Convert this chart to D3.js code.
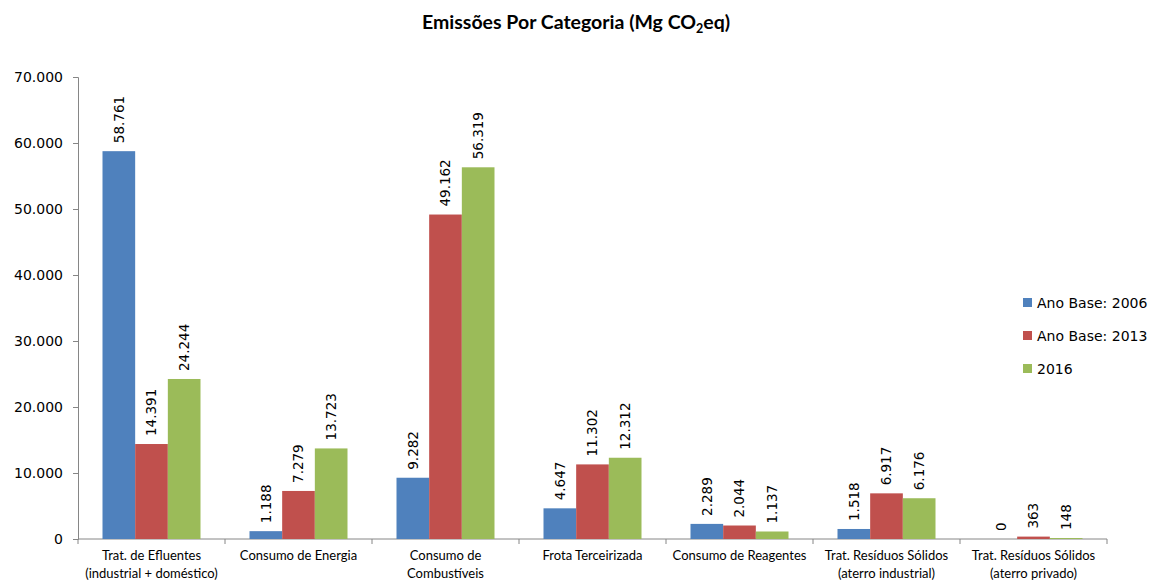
<!DOCTYPE html>
<html>
<head>
<meta charset="utf-8">
<script src="https://cdn.jsdelivr.net/npm/d3@7"></script>
<style>
  html, body { margin: 0; padding: 0; background: #fff; }
  svg { display: block; }
</style>
</head>
<body>
<svg id="chart" width="1151" height="581"></svg>
<script>
// Emission categories (two-line labels where the axis wraps them)
const categories = [
  ["Trat. de Efluentes", "(industrial + doméstico)"],
  ["Consumo de Energia"],
  ["Consumo de", "Combustíveis"],
  ["Frota Terceirizada"],
  ["Consumo de Reagentes"],
  ["Trat. Resíduos Sólidos", "(aterro industrial)"],
  ["Trat. Resíduos Sólidos", "(aterro privado)"]
];
const seriesNames = ["Ano Base: 2006", "Ano Base: 2013", "2016"];
const values2006 = [58761, 1188, 9282, 4647, 2289, 1518, 0];
const values2013 = [14391, 7279, 49162, 11302, 2044, 6917, 363];
const values2016 = [24244, 13723, 56319, 12312, 1137, 6176, 148];
const yTicks = [0, 10000, 20000, 30000, 40000, 50000, 60000, 70000];
const colors = ["#4F81BD", "#C0504D", "#9BBB59"];

const seriesValues = [values2006, values2013, values2016];

const svg = d3.select("#chart");
const plotLeft = 78, plotTop = 77, plotRight = 1107, plotBottom = 539;

const locale = d3.formatLocale({ decimal: ",", thousands: ".", grouping: [3], currency: ["", ""] });
const fmt = locale.format(",d");

const x0 = d3.scaleBand()
  .domain(d3.range(categories.length))
  .range([plotLeft, plotRight])
  .padding(0);

// Gap width of 150%: bars take 3 of 4.5 units within each category
const bandW = x0.bandwidth();
const groupW = bandW * 3 / 4.5;
const x1 = d3.scaleBand()
  .domain(d3.range(seriesNames.length))
  .range([0, groupW]);

const y = d3.scaleLinear().domain([0, 70000]).range([plotBottom, plotTop]);

// Title
const title = svg.append("text")
  .attr("x", 576).attr("y", 29)
  .attr("text-anchor", "middle")
  .style("font-family", "Lato, 'Open Sans', sans-serif")
  .style("font-weight", "bold")
  .style("font-size", "19.5px")
  .attr("fill", "#000");
title.append("tspan").text("Emissões Por Categoria (Mg CO");
title.append("tspan").attr("font-size", "12.5px").attr("dy", 4).text("2");
title.append("tspan").attr("dy", -4).text("eq)");

// Y axis
const yAxis = d3.axisLeft(y).tickValues(yTicks).tickFormat(d => fmt(d)).tickSize(5).tickPadding(10);
const gy = svg.append("g").attr("transform", `translate(${plotLeft},0)`).call(yAxis);
gy.select(".domain").attr("stroke", "#868686");
gy.selectAll(".tick line").attr("stroke", "#868686");
gy.selectAll(".tick text")
  .style("font-family", "'DejaVu Sans', Verdana, sans-serif")
  .style("font-size", "14px")
  .attr("fill", "#000");

// X axis baseline with category boundary ticks
const gx = svg.append("g");
gx.append("line")
  .attr("x1", plotLeft).attr("x2", plotRight)
  .attr("y1", plotBottom).attr("y2", plotBottom)
  .attr("stroke", "#868686");
const boundaries = d3.range(categories.length + 1).map(i => i < categories.length ? x0(i) : plotRight);
gx.selectAll("line.tk").data(boundaries).join("line")
  .attr("class", "tk")
  .attr("x1", d => d).attr("x2", d => d)
  .attr("y1", plotBottom).attr("y2", plotBottom + 5)
  .attr("stroke", "#868686");

// Category labels
const catG = svg.append("g")
  .style("font-family", "Lato, 'Open Sans', sans-serif")
  .style("font-size", "13px")
  .attr("fill", "#000");
categories.forEach((lines, i) => {
  const t = catG.append("text")
    .attr("x", x0(i) + bandW / 2)
    .attr("y", 560)
    .attr("text-anchor", "middle");
  lines.forEach((ln, j) => {
    t.append("tspan").attr("x", x0(i) + bandW / 2).attr("dy", j === 0 ? 0 : 18).text(ln);
  });
});

// Bars and rotated value labels
const groupOffset = (bandW - groupW) / 2;
seriesValues.forEach((vals, s) => {
  const g = svg.append("g");
  g.selectAll("rect").data(vals).join("rect")
    .attr("x", (d, i) => x0(i) + groupOffset + x1(s))
    .attr("y", d => y(d))
    .attr("width", x1.bandwidth())
    .attr("height", d => plotBottom - y(d))
    .attr("fill", colors[s]);
  g.selectAll("text").data(vals).join("text")
    .attr("transform", (d, i) => {
      const cx = x0(i) + groupOffset + x1(s) + x1.bandwidth() / 2;
      return `translate(${cx},${y(d) - 8}) rotate(-90)`;
    })
    .attr("dy", "0.35em")
    .attr("text-anchor", "start")
    .style("font-family", "'DejaVu Sans', Verdana, sans-serif")
    .style("font-size", "13.5px")
    .attr("fill", "#000")
    .text(d => fmt(d));
});

// Legend
const leg = svg.append("g");
seriesNames.forEach((name, s) => {
  const yy = 303 + s * 33;
  leg.append("rect").attr("x", 1023).attr("y", yy - 5).attr("width", 9).attr("height", 9).attr("fill", colors[s]);
  leg.append("text").attr("x", 1037).attr("y", yy).attr("dy", "0.35em")
    .style("font-family", "'DejaVu Sans', Verdana, sans-serif")
    .style("font-size", "14px")
    .attr("fill", "#000")
    .text(name);
});
</script>
</body>
</html>
